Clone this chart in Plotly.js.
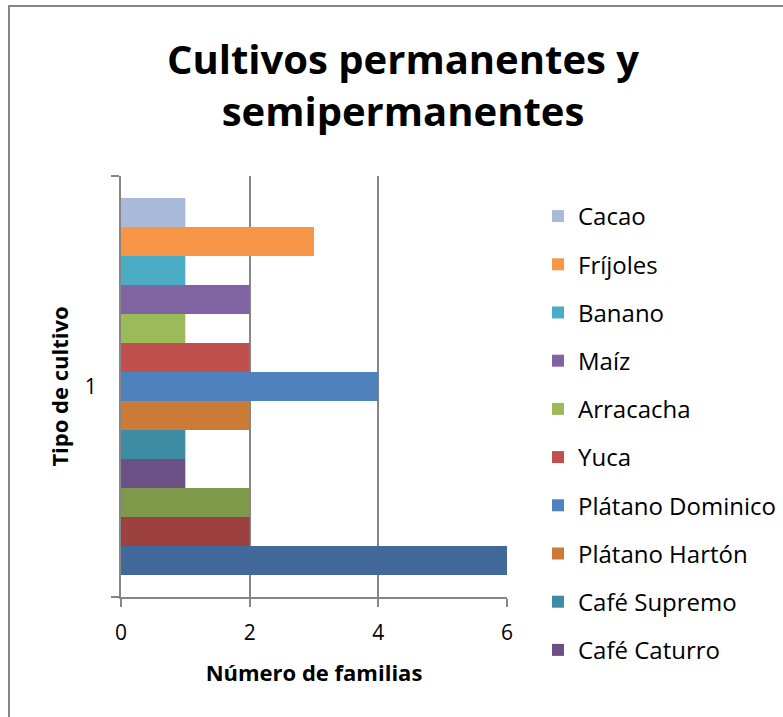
<!DOCTYPE html>
<html>
<head>
<meta charset="utf-8">
<script src="https://cdn.plot.ly/plotly-3.0.1.min.js"></script>
<style>html,body{margin:0;padding:0;background:#fff;}#chart{width:783px;height:717px;}</style>
</head>
<body>
<div id="chart"></div>
<script>
// Series in Excel order (series 1 is the bottom bar)
const category = ['1'];
const seriesNames = ['Serie 1', 'Serie 2', 'Serie 3', 'Café Caturro', 'Café Supremo', 'Plátano Hartón',
  'Plátano Dominico', 'Yuca', 'Arracacha', 'Maíz', 'Banano', 'Fríjoles', 'Cacao'];
const seriesValues = [6, 2, 2, 1, 1, 2, 4, 2, 1, 2, 1, 3, 1];
const seriesColors = ['#41699A', '#9C413F', '#7F994A', '#6A5084', '#3C8DA3', '#CB7A37',
  '#4F81BD', '#C0504D', '#9BBB59', '#8064A2', '#4BACC6', '#F79646', '#A9B9D8'];
const inLegend = [false, false, false, true, true, true, true, true, true, true, true, true, true];
const xTicks = [0, 2, 4, 6];

const W = 783, H = 717;
const L = 121, R = 507, T = 176, B = 597;
const px = x => (x - L) / (R - L);
const py = y => (B - y) / (B - T);

const traces = seriesNames.map((n, i) => ({
  type: 'bar', orientation: 'h', name: n, y: category, x: [seriesValues[i]],
  marker: {color: seriesColors[i], line: {width: 0}},
  showlegend: inLegend[i], legendgroup: 'g' + i, legendrank: 1000 - i, hoverinfo: 'skip'
}));

const axisColor = '#868686';
const layout = {
  width: W, height: H,
  margin: {l: L, r: W - R, t: T, b: H - B, pad: 0, autoexpand: false},
  paper_bgcolor: '#fff', plot_bgcolor: '#fff',
  font: {family: 'Open Sans, sans-serif', color: '#000'},
  barmode: 'group', bargap: 0.105, bargroupgap: 0,
  title: {
    text: '<b>Cultivos permanentes y<br>semipermanentes</b>',
    font: {size: 40, family: 'Open Sans, sans-serif', color: '#000'},
    xref: 'container', x: 403 / W, xanchor: 'center',
    yref: 'container', y: 1 - 74 / H, yanchor: 'top'
  },
  xaxis: {
    range: [0, 6], tickvals: xTicks, ticktext: xTicks.map(String),
    showgrid: true, gridcolor: axisColor, gridwidth: 2, zeroline: false,
    showline: true, linecolor: axisColor, linewidth: 2,
    ticks: 'outside', ticklen: 8, tickwidth: 2, tickcolor: axisColor,
    tickfont: {size: 21}, ticklabelstandoff: 8,
    title: {text: '<b>Número de familias</b>', font: {size: 22}, standoff: 20}
  },
  yaxis: {
    type: 'category', tickson: 'boundaries',
    showgrid: false, zeroline: false,
    showline: true, linecolor: axisColor, linewidth: 2,
    ticks: 'outside', ticklen: 8, tickwidth: 2, tickcolor: axisColor,
    tickfont: {size: 21}, ticklabelstandoff: 18,
    title: {text: '<b>Tipo de cultivo</b>', font: {size: 22}, standoff: 10}
  },
  legend: {
    x: px(538), xanchor: 'left', y: py(194), yanchor: 'top',
    traceorder: 'grouped', tracegroupgap: 14, maxheight: 700,
    font: {size: 24, family: 'Open Sans, sans-serif', color: '#000'},
    bgcolor: 'rgba(0,0,0,0)', borderwidth: 0
  },
  shapes: [
    {type: 'line', xref: 'paper', yref: 'paper', x0: px(8), x1: px(800), y0: py(6), y1: py(6),
     line: {color: axisColor, width: 2}},
    {type: 'line', xref: 'paper', yref: 'paper', x0: px(9), x1: px(9), y0: py(5), y1: py(730),
     line: {color: axisColor, width: 2}}
  ]
};

Plotly.newPlot('chart', traces, layout, {staticPlot: true, displayModeBar: false});
</script>
</body>
</html>
